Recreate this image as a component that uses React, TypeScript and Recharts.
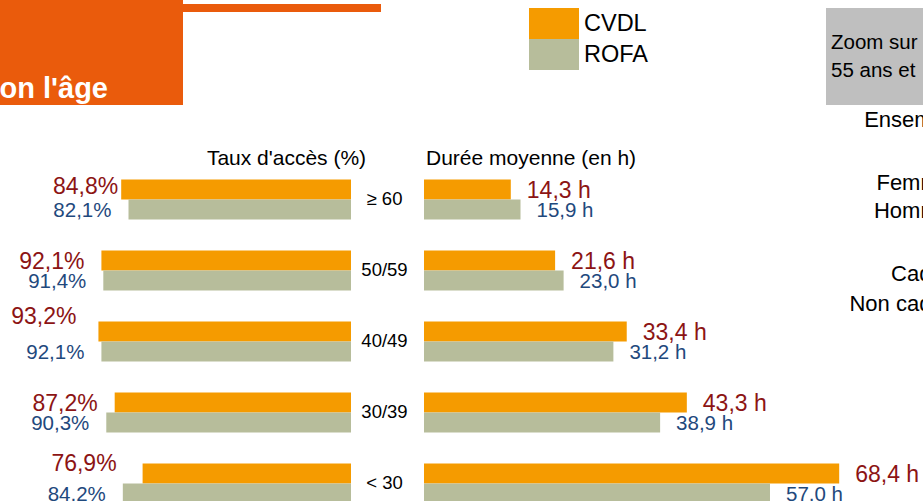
import React from "react";
import { BarChart, Bar, XAxis, YAxis, LabelList, Legend } from "recharts";

const ageGroups = ["≥ 60", "50/59", "40/49", "30/39", "< 30"];
const accessCvdl = [84.8, 92.1, 93.2, 87.2, 76.9];
const accessRofa = [82.1, 91.4, 92.1, 90.3, 84.2];
const hoursCvdl = [14.3, 21.6, 33.4, 43.3, 68.4];
const hoursRofa = [15.9, 23.0, 31.2, 38.9, 57.0];
const sideLabels = ["Ensemble", "Femmes", "Hommes", "Cadres", "Non cadres"];

const accessData = ageGroups.map((age, i) => ({ age, cvdl: accessCvdl[i], rofa: accessRofa[i] }));
const hoursData = ageGroups.map((age, i) => ({ age, cvdl: hoursCvdl[i], rofa: hoursRofa[i] }));

// a few CVDL labels on the left were moved by hand in the original slide
const accessCvdlNudge = [[14, -4], [0, 0], [-5, -16], [0, 0], [-9, -11]];

const FONT = "'Liberation Sans', Arial, sans-serif";
const ORANGE = "#F59B00";
const SAGE = "#B7BD9B";
const RED = "#8C1414";
const BLUE = "#1F497D";
const BANNER = "#EA5B0C";

const fmt = (v: any) => Number(v).toFixed(1).replace(".", ",");

const box = (props: any) => {
  const vb = props.viewBox && props.viewBox.x != null ? props.viewBox : props;
  return { x: Number(vb.x), y: Number(vb.y), w: Number(vb.width), h: Number(vb.height) };
};

const leftLabel = (color: string, size: number, nudge?: number[][]) => (props: any) => {
  const { x, y, w, h } = box(props);
  const [dx, dy] = nudge ? nudge[props.index] || [0, 0] : [0, 0];
  const left = Math.min(x, x + w);
  return (
    <text x={left - 17 + dx} y={y + h / 2 + dy} dy="0.35em" textAnchor="end" fill={color} fontSize={size} fontFamily={FONT}>
      {fmt(props.value)}%
    </text>
  );
};

const rightLabel = (color: string, size: number) => (props: any) => {
  const { x, y, w, h } = box(props);
  const right = Math.max(x, x + w);
  return (
    <text x={right + 16} y={y + h / 2} dy="0.35em" textAnchor="start" fill={color} fontSize={size} fontFamily={FONT}>
      {fmt(props.value)} h
    </text>
  );
};

const AgeTick = (props: any) => (
  <text x={props.x} y={props.y} dy="0.35em" textAnchor="middle" fill="#000" fontSize={18.5} fontFamily={FONT}>
    {props.payload.value}
  </text>
);

const renderLegend = (props: any) => (
  <div style={{ display: "flex", flexDirection: "column" }}>
    {(props.payload || []).map((p: any) => (
      <div key={p.value} style={{ display: "flex", alignItems: "center", height: 31 }}>
        <span style={{ display: "inline-block", width: 50, height: 31, background: p.color }} />
        <span style={{ marginLeft: 5, fontSize: 23.5, fontFamily: FONT, color: "#000", lineHeight: "31px" }}>{p.value}</span>
      </div>
    ))}
  </div>
);

export default function App() {
  return (
    <div style={{ position: "absolute", left: 0, top: 0, width: 923, height: 501, overflow: "hidden", background: "#fff" }}>
      <svg width={923} height={501} style={{ position: "absolute", left: 0, top: 0 }} fontFamily={FONT}>
        <rect x={0} y={0} width={183} height={105} fill={BANNER} />
        <rect x={183} y={4} width={198} height={8} fill={BANNER} />
        <text x={108} y={98} textAnchor="end" fill="#fff" fontWeight="bold" fontSize={29}>on l'âge</text>

        <rect x={826} y={8} width={110} height={97} fill="#BFBFBF" />
        <text x={831} y={49} fontSize={20.5} fill="#000">Zoom sur</text>
        <text x={831} y={77} fontSize={20.5} fill="#000">55 ans et</text>

        <text x={286.5} y={165} textAnchor="middle" fontSize={21} fill="#000">Taux d'accès (%)</text>
        <text x={426} y={165} fontSize={21} fill="#000">Durée moyenne (en h)</text>

        {sideLabels.map((s, i) => (
          <text key={s} x={962} y={[127, 190, 218, 281, 311][i]} textAnchor="end" fontSize={22} fill="#000">{s}</text>
        ))}
      </svg>

      <div style={{ position: "absolute", left: 0, top: 0 }}>
        <BarChart
          layout="vertical"
          width={351}
          height={518.5}
          data={accessData}
          margin={{ top: 163.5, right: 0, bottom: 0, left: 80 }}
          barGap={0}
        >
          <XAxis type="number" domain={[0, 100]} reversed hide />
          <YAxis type="category" dataKey="age" hide />
          <Bar dataKey="cvdl" name="CVDL" fill={ORANGE} barSize={20} isAnimationActive={false}>
            <LabelList dataKey="cvdl" content={leftLabel(RED, 23, accessCvdlNudge)} />
          </Bar>
          <Bar dataKey="rofa" name="ROFA" fill={SAGE} barSize={20} isAnimationActive={false}>
            <LabelList dataKey="rofa" content={leftLabel(BLUE, 20.5)} />
          </Bar>
        </BarChart>
      </div>

      <div style={{ position: "absolute", left: 0, top: 0 }}>
        <BarChart
          layout="vertical"
          width={923}
          height={518.5}
          data={hoursData}
          margin={{ top: 163.5, right: 13.4, bottom: 0, left: 344 }}
          barGap={0}
        >
          <XAxis type="number" domain={[0, 80]} hide />
          <YAxis
            type="category"
            dataKey="age"
            width={80}
            axisLine={false}
            tickLine={false}
            tickSize={0}
            tickMargin={39.5}
            tick={AgeTick}
            interval={0}
          />
          <Legend
            layout="horizontal"
            verticalAlign="middle"
            align="center"
            content={renderLegend}
            wrapperStyle={{ top: 8, left: 529, width: 150 }}
          />
          <Bar dataKey="cvdl" name="CVDL" fill={ORANGE} barSize={20} isAnimationActive={false}>
            <LabelList dataKey="cvdl" content={rightLabel(RED, 23)} />
          </Bar>
          <Bar dataKey="rofa" name="ROFA" fill={SAGE} barSize={20} isAnimationActive={false}>
            <LabelList dataKey="rofa" content={rightLabel(BLUE, 20.5)} />
          </Bar>
        </BarChart>
      </div>
    </div>
  );
}
